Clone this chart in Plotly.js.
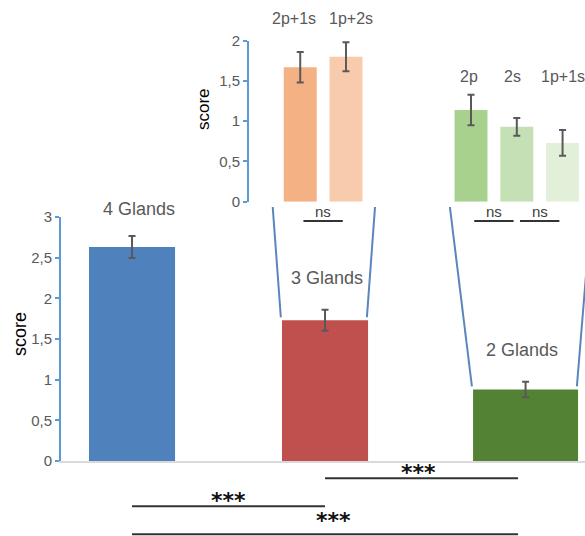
<!DOCTYPE html>
<html><head><meta charset="utf-8">
<script src="https://cdn.plot.ly/plotly-3.0.1.min.js"></script>
<style>html,body{margin:0;padding:0;background:#fff}</style>
</head><body><div id="chart" style="width:585px;height:536px"></div>
<script>
// ---------- data ----------
const glandGroups = ['4 Glands', '3 Glands', '2 Glands'];
const glandScores = [2.63, 1.73, 0.88];
const glandErrors = [0.135, 0.13, 0.095];

const threeGlandTypes = ['2p+1s', '1p+2s'];
const threeGlandScores = [1.67, 1.80];
const threeGlandErrors = [0.19, 0.18];

const twoGlandTypes = ['2p', '2s', '1p+1s'];
const twoGlandScores = [1.14, 0.93, 0.73];
const twoGlandErrors = [0.19, 0.11, 0.16];

const mainTickVals = [0, 0.5, 1, 1.5, 2, 2.5, 3];
const insetTickVals = [0, 0.5, 1, 1.5, 2];

const mainComparisons = [[1, 2], [0, 1], [0, 2]];
const mainComparisonLabels = ['***', '***', '***'];
const threeGlandComparisons = [[0, 1]];
const twoGlandComparisons = [[0, 1], [1, 2]];
const insetComparisonLabel = 'ns';

// ---------- style ----------
const W = 585, H = 536;
const px = v => v / W;
const py = v => 1 - v / H;
const FONT = 'Liberation Sans, Arial, sans-serif';
const GRAY = '#595959';
const AXIS_BLUE = '#5B9BD5';
const glandColors = ['#4F81BD', '#C0504D', '#548235'];
const threeGlandColors = ['#F4B183', '#F8CBAD'];
const twoGlandColors = ['#A9D18E', '#C5E0B4', '#E2F0D9'];
const mainWidths = [0.446, 0.446, 0.544];
const mainOffsets = [-0.223, -0.223, -0.233];
const labelXShift = [7, 2, 4];
const labelYShift = [27, 32, 32];
const mainDomY = [py(461), py(217)];
const insetDomY = [py(201.7), py(40.7)];
const sigLineY = [478.3, 506.3, 534.3];
const sigLabelXShift = [-3, 0, 8];
const sigLabelYShift = [-9, -9, -1];

const errStyle = (arr) => ({type: 'data', array: arr, visible: true, color: GRAY, thickness: 2, width: 3.5});

const traces = [
  {type: 'bar', x: glandGroups, y: glandScores, width: mainWidths, offset: mainOffsets,
   marker: {color: glandColors, line: {width: 0}}, error_y: errStyle(glandErrors),
   xaxis: 'x', yaxis: 'y', hoverinfo: 'none'},
  {type: 'bar', x: threeGlandTypes, y: threeGlandScores, width: 0.72,
   marker: {color: threeGlandColors}, error_y: errStyle(threeGlandErrors),
   xaxis: 'x2', yaxis: 'y2', hoverinfo: 'none'},
  {type: 'bar', x: twoGlandTypes, y: twoGlandScores, width: 0.72,
   marker: {color: twoGlandColors}, error_y: errStyle(twoGlandErrors),
   xaxis: 'x3', yaxis: 'y3', hoverinfo: 'none'}
];

const annotations = [];
const shapes = [];

// group labels above main bars
glandGroups.forEach((g, i) => {
  annotations.push({text: g, xref: 'x', yref: 'y', x: i, y: glandScores[i] + glandErrors[i],
    xanchor: 'center', yanchor: 'middle', yshift: labelYShift[i], xshift: labelXShift[i], showarrow: false,
    font: {family: FONT, size: 18, color: GRAY}});
});
// inset labels
const insetLabelShift3 = [-6, 5];
threeGlandTypes.forEach((t, i) => {
  annotations.push({text: t, xref: 'x2', yref: 'paper', x: i, y: py(19), xshift: insetLabelShift3[i],
    xanchor: 'center', yanchor: 'middle',
    showarrow: false, font: {family: FONT, size: 16, color: GRAY}});
});
const insetLabelShift2 = [-2, -4, 0];
twoGlandTypes.forEach((t, i) => {
  annotations.push({text: t, xref: 'x3', yref: 'paper', x: i, y: py(76.5), xshift: insetLabelShift2[i],
    xanchor: 'center', yanchor: 'middle',
    showarrow: false, font: {family: FONT, size: 16, color: GRAY}});
});
// axis titles
annotations.push({text: 'score', xref: 'paper', yref: 'paper', x: px(20), y: py(334), textangle: -90,
  xanchor: 'center', yanchor: 'middle',
  showarrow: false, font: {family: FONT, size: 18, color: '#000'}});
annotations.push({text: 'score', xref: 'paper', yref: 'paper', x: px(203), y: py(109), textangle: -90,
  xanchor: 'center', yanchor: 'middle',
  showarrow: false, font: {family: FONT, size: 17, color: '#000'}});

// ns comparisons in insets
function addNs(comps, xref) {
  comps.forEach(([a, b]) => {
    shapes.push({type: 'line', xref: xref, yref: 'paper', x0: a + 0.07, x1: b - 0.07, y0: py(221), y1: py(221),
      line: {color: '#333', width: 2}});
    annotations.push({text: insetComparisonLabel, xref: xref, yref: 'paper', x: (a + b) / 2, y: py(212),
      xanchor: 'center', yanchor: 'middle',
      showarrow: false, font: {family: FONT, size: 15, color: '#404040'}});
  });
}
addNs(threeGlandComparisons, 'x2');
addNs(twoGlandComparisons, 'x3');

// main significance bars
mainComparisons.forEach(([a, b], k) => {
  shapes.push({type: 'line', xref: 'x', yref: 'paper', x0: a, x1: b, y0: py(sigLineY[k]), y1: py(sigLineY[k]),
    line: {color: '#333', width: 2}});
  annotations.push({text: mainComparisonLabels[k], xref: 'x', yref: 'paper', x: (a + b) / 2, y: py(sigLineY[k]),
    xanchor: 'center', yanchor: 'bottom', yshift: sigLabelYShift[k], xshift: sigLabelXShift[k], showarrow: false,
    font: {family: 'DejaVu Sans, sans-serif', size: 22, color: '#111', weight: 'bold'}});
});

// connectors from main bars up to insets
const valPaper = v => mainDomY[0] + (v / 3) * (mainDomY[1] - mainDomY[0]);
const connectorSpread = {1: [-0.048, 0.036], 2: [-0.12, 0.07]};
[1, 2].forEach(i => {
  const left = i + mainOffsets[i];
  const right = left + mainWidths[i];
  const yb = valPaper(glandScores[i]) + 3 / H;
  const yt = py(207);
  shapes.push({type: 'line', xref: 'x', yref: 'paper', x0: left - 0.006, y0: yb, x1: left + connectorSpread[i][0], y1: yt,
    line: {color: '#5A86BC', width: 2}});
  shapes.push({type: 'line', xref: 'x', yref: 'paper', x0: right - 0.006, y0: yb, x1: right + connectorSpread[i][1], y1: yt,
    line: {color: '#5A86BC', width: 2}});
});

const hiddenX = {showline: false, showticklabels: false, ticks: '', showgrid: false, zeroline: false, fixedrange: true};

const layout = {
  width: W, height: H,
  margin: {l: 0, r: 0, t: 0, b: 0},
  paper_bgcolor: '#fff', plot_bgcolor: 'rgba(0,0,0,0)',
  showlegend: false,
  separators: ', ',
  font: {family: FONT},
  xaxis: {domain: [px(61), 1], range: [-0.368, 2.347], type: 'category', showline: true, linecolor: '#D9D9D9', linewidth: 1.5,
    showticklabels: false, ticks: '', showgrid: false, zeroline: false, fixedrange: true, anchor: 'y'},
  yaxis: {domain: mainDomY, range: [0, 3], tickvals: mainTickVals, showline: true, linecolor: AXIS_BLUE, linewidth: 2,
    ticks: 'outside', ticklen: 4, tickwidth: 2, tickcolor: AXIS_BLUE, tickfont: {family: FONT, size: 15, color: GRAY},
    showgrid: false, zeroline: false, fixedrange: true, anchor: 'x'},
  xaxis2: Object.assign({domain: [px(249), px(380)], range: [-1.12, 1.744], type: 'category', anchor: 'y2'}, hiddenX),
  yaxis2: {domain: insetDomY, range: [0, 2], tickvals: insetTickVals, showline: true, linecolor: AXIS_BLUE, linewidth: 2,
    ticks: 'outside', ticklen: 4, tickwidth: 2, tickcolor: AXIS_BLUE, tickfont: {family: FONT, size: 15, color: GRAY},
    showgrid: false, zeroline: false, fixedrange: true, anchor: 'x2'},
  xaxis3: Object.assign({domain: [px(440), 1], range: [-0.678, 2.49], type: 'category', anchor: 'y3'}, hiddenX),
  yaxis3: {domain: insetDomY, range: [0, 2], visible: false, fixedrange: true, anchor: 'x3'},
  annotations: annotations,
  shapes: shapes
};

Plotly.newPlot('chart', traces, layout, {staticPlot: true, displayModeBar: false});
</script>
</body></html>
